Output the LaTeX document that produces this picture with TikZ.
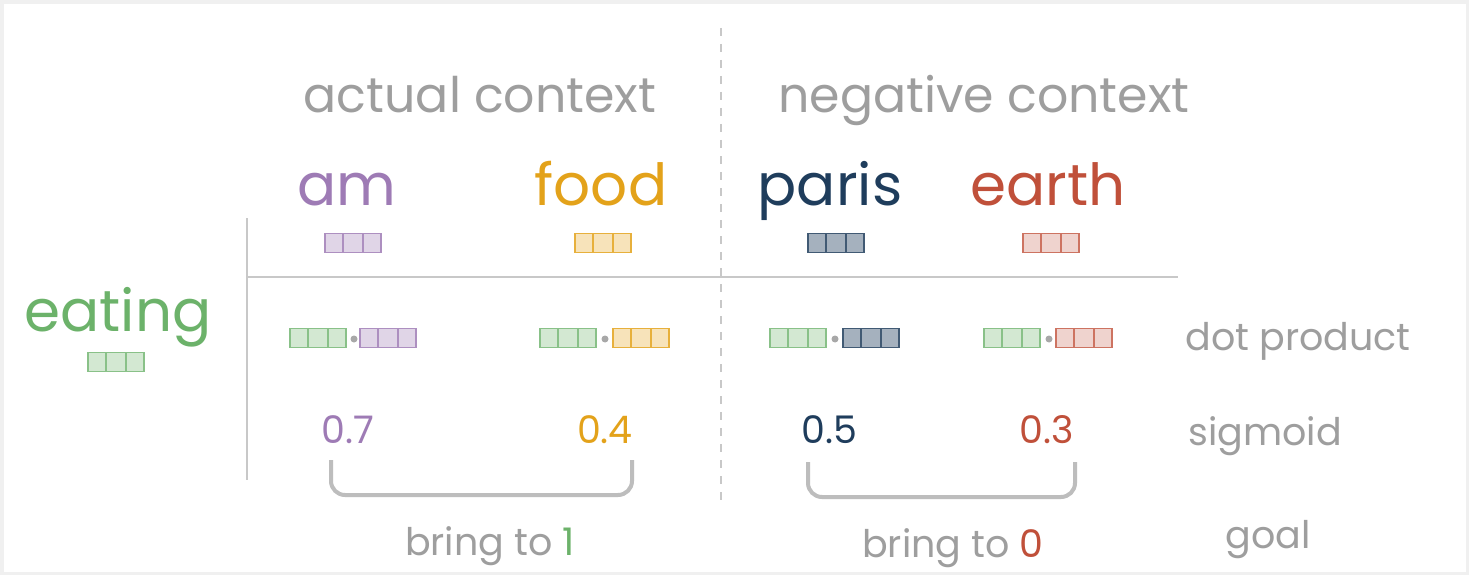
\documentclass[tikz,border=0pt]{standalone}
\usepackage{fontspec}
\setmainfont{Poppins}
\usetikzlibrary{shapes.multipart}

\definecolor{txtgrey}{HTML}{9E9E9E}
\definecolor{linegrey}{HTML}{C8C8C8}
\definecolor{brgrey}{HTML}{BDBDBD}
\definecolor{dotgrey}{HTML}{A8A8A8}
\definecolor{wgreen}{HTML}{6CB26A}
\definecolor{wpurple}{HTML}{9E7BB5}
\definecolor{worange}{HTML}{E3A21A}
\definecolor{wnavy}{HTML}{1F3D5C}
\definecolor{wred}{HTML}{C0503A}

\begin{document}
\begin{tikzpicture}[x=1pt,y=-1pt]
  \tikzset{lbl/.style = {text=txtgrey, inner sep=0pt, anchor=base, font=\fontsize{38}{44}\selectfont}}
  \tikzset{header/.style = {lbl, font=\fontsize{49}{58}\selectfont}}
  \tikzset{word/.style = {inner sep=0pt, anchor=base, font=\fontsize{58}{66}\selectfont}}
  \tikzset{num/.style = {inner sep=0pt, anchor=base, font=\fontsize{38}{44}\selectfont}}
  \tikzset{vec/.style args = {#1/#2}{rectangle split, rectangle split horizontal,
      rectangle split parts=3, inner xsep=6pt, inner ysep=0pt, minimum height=19pt,
      line width=1.8pt, draw=#1, fill=#2}}
  \tikzset{gvec/.style = {vec={wgreen!80}/{wgreen!30}}}
  \tikzset{dotop/.style = {circle, fill=dotgrey, inner sep=0pt, minimum size=7pt}}
  \tikzset{rule/.style = {draw=linegrey, line width=2.5pt}}
  \tikzset{bracket/.style = {draw=brgrey, line width=4pt, rounded corners=14pt}}

% frame of the screenshot
\fill[black!6] (0,0) rectangle (1469,575);
\fill[white] (4,4) rectangle (1466,572);
\useasboundingbox (0,0) rectangle (1469,575);

% rules
\coordinate (dtop) at (721,28);
\coordinate (dbot) at (721,505);
\coordinate (vtop) at (247,218);
\coordinate (vbot) at (247,480);
\coordinate (hleft) at (247,277);
\coordinate (hright) at (1178,277);
\draw[rule, line width=2pt, dash pattern=on 8pt off 8pt] (dtop) -- (dbot);
\draw[rule] (vtop) -- (vbot);
\draw[rule] (hleft) -- (hright);

% headers
\node[header] (actual) at (480,113) {actual context};
\node[header] (negative) at (984,113) {negative context};

% context words and their vectors
\node[word, text=wpurple] (am) at (347,205) {am};
\node[word, text=worange] (food) at (601,205) {food};
\node[word, text=wnavy] (paris) at (830,205) {paris};
\node[word, text=wred] (earth) at (1048,205) {earth};

\node[vec={wpurple!85}/{wpurple!32}] (amv) at (353,243) {\nodepart{two}\nodepart{three}};
\node[vec={worange!85}/{worange!30}] (foodv) at (603,243) {\nodepart{two}\nodepart{three}};
\node[vec={wnavy!85}/{wnavy!40}] (parisv) at (836,243) {\nodepart{two}\nodepart{three}};
\node[vec={wred!80}/{wred!25}] (earthv) at (1051,243) {\nodepart{two}\nodepart{three}};

% target word
\node[word, text=wgreen] (eating) at (118,331) {eating};
\node[gvec] (eatingv) at (116,362) {\nodepart{two}\nodepart{three}};

% dot products
\node[gvec] (g1) at (318,338) {\nodepart{two}\nodepart{three}};
\node[dotop] (d1) at (354,339) {};
\node[vec={wpurple!85}/{wpurple!32}] (p1) at (388,338) {\nodepart{two}\nodepart{three}};

\node[gvec] (g2) at (568,338) {\nodepart{two}\nodepart{three}};
\node[dotop] (d2) at (605,339) {};
\node[vec={worange!85}/{worange!30}] (p2) at (641,338) {\nodepart{two}\nodepart{three}};

\node[gvec] (g3) at (798,338) {\nodepart{two}\nodepart{three}};
\node[dotop] (d3) at (835,339) {};
\node[vec={wnavy!85}/{wnavy!40}] (p3) at (871,338) {\nodepart{two}\nodepart{three}};

\node[gvec] (g4) at (1012,338) {\nodepart{two}\nodepart{three}};
\node[dotop] (d4) at (1049,339) {};
\node[vec={wred!80}/{wred!25}] (p4) at (1084,338) {\nodepart{two}\nodepart{three}};

% sigmoid values
\node[num, text=wpurple] (s1) at (348,443) {0.7};
\node[num, text=worange] (s2) at (605,443) {0.4};
\node[num, text=wnavy] (s3) at (829,443) {0.5};
\node[num, text=wred] (s4) at (1047,443) {0.3};

% brackets
\coordinate (b1l) at (331,460);
\coordinate (b1r) at (632,460);
\coordinate (b2l) at (808,462);
\coordinate (b2r) at (1075,462);
\draw[bracket] (b1l) -- ++(0,35) -| (b1r);
\draw[bracket] (b2l) -- ++(0,35) -| (b2r);

% goals
\node[lbl] (goal1) at (490,555) {bring to \textcolor{wgreen}{1}};
\node[lbl] (goal0) at (953,557) {bring to \textcolor{wred}{0}};

% row labels
\node[lbl] (dotlbl) at (1298,350) {dot product};
\node[lbl] (siglbl) at (1265,445) {sigmoid};
\node[lbl] (goallbl) at (1268,548) {goal};

\end{tikzpicture}
\end{document}
